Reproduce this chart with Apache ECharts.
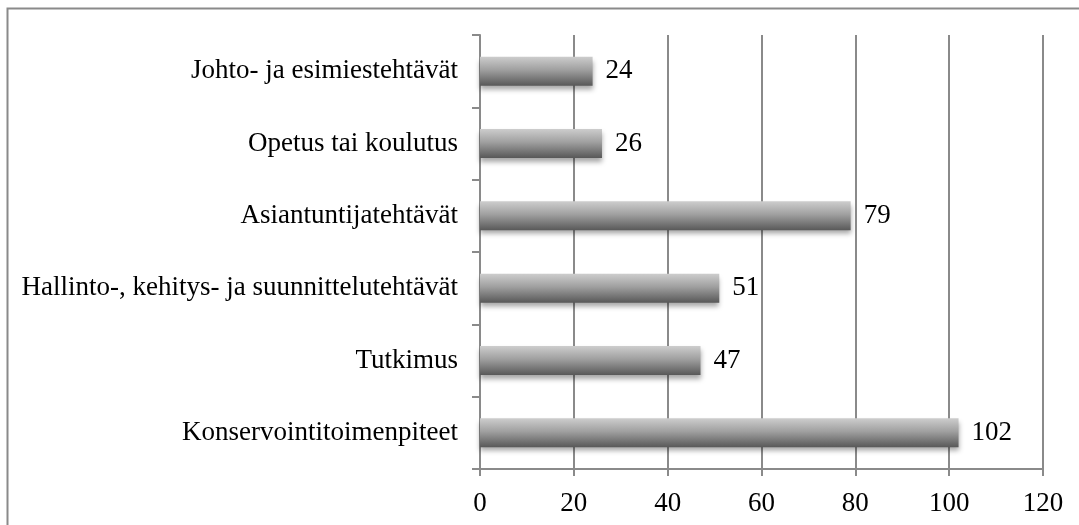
<!DOCTYPE html>
<html>
<head>
<meta charset="utf-8">
<script src="https://cdn.jsdelivr.net/npm/echarts@6/dist/echarts.min.js"></script>
<style>
  html, body { margin: 0; padding: 0; background: #fff; }
  #chart { width: 1079px; height: 525px; }
</style>
</head>
<body>
<div id="chart"></div>
<script>
const categories = [
  "Konservointitoimenpiteet",
  "Tutkimus",
  "Hallinto-, kehitys- ja suunnittelutehtävät",
  "Asiantuntijatehtävät",
  "Opetus tai koulutus",
  "Johto- ja esimiestehtävät"
];
const values = [102, 47, 51, 79, 26, 24];
const xTicks = [0, 20, 40, 60, 80, 100, 120];

const font = "'Liberation Serif', 'DejaVu Serif', serif";
const axisGray = "#8a8a8a";

const chart = echarts.init(document.getElementById("chart"));
chart.setOption({
  animation: false,
  textStyle: { fontFamily: font },
  graphic: [{
    type: "rect",
    shape: { x: 7.5, y: 8.5, width: 1200, height: 700 },
    style: { fill: "none", stroke: axisGray, lineWidth: 2 },
    z: 0
  }],
  grid: { left: 480, right: 36, top: 35, bottom: 56 },
  xAxis: {
    type: "value",
    min: xTicks[0],
    max: xTicks[xTicks.length - 1],
    interval: 20,
    axisLine: { show: true, lineStyle: { color: axisGray, width: 2 } },
    axisTick: { show: true, length: 7, lineStyle: { color: axisGray, width: 2 } },
    splitLine: { show: true, lineStyle: { color: axisGray, width: 2 } },
    axisLabel: { color: "#000", fontSize: 27, fontFamily: font, margin: 21 }
  },
  yAxis: {
    type: "category",
    data: categories,
    axisLine: { show: true, lineStyle: { color: axisGray, width: 2 } },
    axisTick: { show: true, length: 8, lineStyle: { color: axisGray, width: 2 } },
    axisLabel: { color: "#000", fontSize: 27, fontFamily: font, margin: 22 }
  },
  series: [{
    type: "bar",
    data: values,
    barWidth: 29,
    itemStyle: {
      color: new echarts.graphic.LinearGradient(0, 0, 0, 1, [
        { offset: 0, color: "#cdcdcd" },
        { offset: 0.45, color: "#a0a0a0" },
        { offset: 1, color: "#585858" }
      ]),
      shadowColor: "rgba(0,0,0,0.35)",
      shadowBlur: 5,
      shadowOffsetY: 4
    },
    label: {
      show: true,
      position: "right",
      distance: 13,
      color: "#000",
      fontSize: 27,
      fontFamily: font
    }
  }]
});
</script>
</body>
</html>
